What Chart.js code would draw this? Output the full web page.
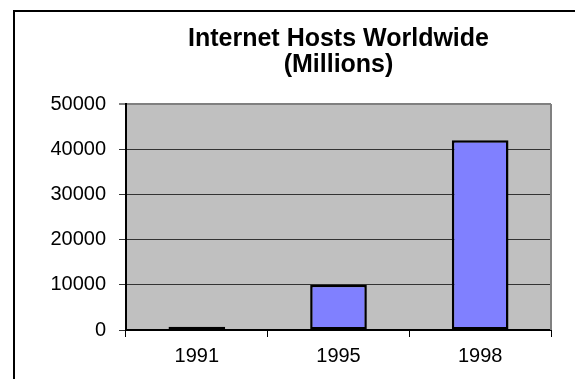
<!DOCTYPE html>
<html>
<head>
<meta charset="utf-8">
<title>Internet Hosts Worldwide</title>
<script src="https://cdn.jsdelivr.net/npm/chart.js@4/dist/chart.umd.min.js"></script>
<style>
  html, body { margin: 0; padding: 0; background: #fff; }
  #wrap { position: relative; width: 575px; height: 379px; overflow: hidden; }
  #frame { position: absolute; left: 13px; top: 10px; width: 600px; height: 400px;
           border-left: 2px solid #000; border-top: 2px solid #000; box-sizing: border-box; }
  canvas { position: absolute; left: 0; top: 0; }
</style>
</head>
<body>
<div id="wrap">
  <div id="frame"></div>
  <canvas id="chart" width="575" height="379"></canvas>
</div>
<script>
// Host counts by year
const years = ['1991', '1995', '1998'];
const hosts = [700, 10000, 42000];

// Value axis range
const yMin = 0;
const yMax = 50000;
const yStep = 10000;

const FONT = "'Liberation Sans', Arial, Helvetica, sans-serif";

// Gray plot background plus the gray right edge of the plot frame
const plotFrame = {
  id: 'plotFrame',
  beforeDraw(chart) {
    const { ctx, chartArea: a } = chart;
    ctx.save();
    ctx.fillStyle = '#C0C0C0';
    ctx.fillRect(a.left, a.top, a.right - a.left, a.bottom - a.top);
    ctx.restore();
  },
  beforeDatasetsDraw(chart) {
    const { ctx, chartArea: a } = chart;
    ctx.save();
    ctx.strokeStyle = '#808080';
    ctx.lineWidth = 2;
    ctx.beginPath();
    ctx.moveTo(a.right, a.top);
    ctx.lineTo(a.right, a.bottom);
    ctx.stroke();
    ctx.restore();
  }
};

new Chart(document.getElementById('chart'), {
  type: 'bar',
  data: {
    labels: years,
    datasets: [{
      data: hosts,
      backgroundColor: '#8080FF',
      borderColor: '#000000',
      borderWidth: 2.5,
      borderSkipped: false,
      categoryPercentage: 1.0,
      barPercentage: 0.4
    }]
  },
  options: {
    responsive: false,
    animation: false,
    devicePixelRatio: 1,
    layout: { padding: { top: 0, right: 24, bottom: 0, left: 0 } },
    plugins: {
      legend: { display: false },
      tooltip: { enabled: false },
      title: {
        display: true,
        fullSize: false,
        text: ['Internet Hosts Worldwide', '(Millions)'],
        color: '#000',
        font: { family: FONT, size: 25, weight: 'bold', lineHeight: '26px' },
        padding: { top: 26, bottom: 26 }
      }
    },
    scales: {
      x: {
        offset: true,
        afterFit(scale) { scale.height = 49; },
        grid: {
          offset: true,
          drawOnChartArea: false,
          drawTicks: true,
          tickLength: 7,
          color: '#000',
          lineWidth: 1
        },
        border: { display: true, color: '#000', width: 2 },
        ticks: {
          color: '#000',
          padding: 7,
          maxRotation: 0,
          font: { family: FONT, size: 20 }
        }
      },
      y: {
        min: yMin,
        max: yMax,
        afterFit(scale) { scale.width = 126; },
        grid: {
          drawTicks: true,
          tickLength: 7,
          color: (c) => (c.tick && c.tick.value === yMax ? '#808080' : '#333333'),
          lineWidth: (c) => (c.tick && c.tick.value === yMax ? 2 : 1)
        },
        border: { display: true, color: '#000', width: 2 },
        ticks: {
          stepSize: yStep,
          color: '#000',
          padding: 13,
          font: { family: FONT, size: 20 },
          callback: (v) => String(v)
        }
      }
    }
  },
  plugins: [plotFrame]
});
</script>
</body>
</html>
